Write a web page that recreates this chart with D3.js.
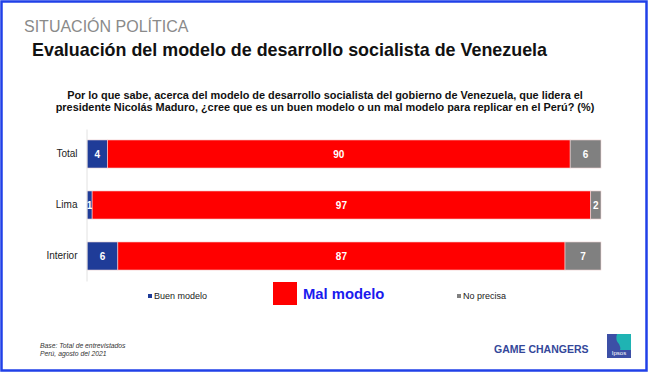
<!DOCTYPE html>
<html>
<head>
<meta charset="utf-8">
<script src="https://cdn.jsdelivr.net/npm/d3@7"></script>
<style>
  body { margin: 0; background: #fff; }
  svg { display: block; font-family: "Liberation Sans", Arial, sans-serif; }
</style>
</head>
<body>
<div id="chart"></div>
<script>
// data
const categories = ["Total", "Lima", "Interior"];
const buenModelo = [4, 1, 6];
const malModelo = [90, 97, 87];
const noPrecisa = [6, 2, 7];
const seriesNames = ["Buen modelo", "Mal modelo", "No precisa"];

const W = 650, H = 373;
const colors = { "Buen modelo": "#1f3c98", "Mal modelo": "#ff0000", "No precisa": "#808080" };

const svg = d3.select("#chart").append("svg")
  .attr("width", W)
  .attr("height", H);

// slide frame
svg.append("rect")
  .attr("x", 1.5).attr("y", 1.5)
  .attr("width", W - 5).attr("height", H - 4)
  .attr("fill", "#fff")
  .attr("stroke", "#2040e8")
  .attr("stroke-width", 2.5);

// headings
svg.append("text")
  .attr("x", 24).attr("y", 32)
  .style("font-size", "16px")
  .attr("fill", "#8a8a8a")
  .text("SITUACIÓN POLÍTICA");

svg.append("text")
  .attr("x", 32).attr("y", 56)
  .style("font-size", "17.9px")
  .style("font-weight", "bold")
  .attr("fill", "#111")
  .text("Evaluación del modelo de desarrollo socialista de Venezuela");

const question = [
  "Por lo que sabe, acerca del modelo de desarrollo socialista del gobierno de Venezuela, que lidera el",
  "presidente Nicolás Maduro, ¿cree que es un buen modelo o un mal modelo para replicar en el Perú? (%)"
];
svg.append("g").selectAll("text")
  .data(question)
  .join("text")
  .attr("x", 325)
  .attr("y", (d, i) => 98.5 + i * 12.5)
  .attr("text-anchor", "middle")
  .style("font-size", "10.9px")
  .style("font-weight", "bold")
  .attr("fill", "#111")
  .text(d => d);

// scales
const x = d3.scaleLinear().domain([0, 100]).range([87, 601]);
const y = d3.scaleBand()
  .domain(categories)
  .range([129, 281])
  .paddingInner(0.45)
  .paddingOuter(0.215);

const rows = categories.map((c, i) => ({
  cat: c,
  values: [buenModelo[i], malModelo[i], noPrecisa[i]]
}));

const stacked = rows.map(r => {
  let acc = 0;
  return r.values.map((v, j) => {
    const seg = { cat: r.cat, key: seriesNames[j], x0: acc, x1: acc + v, value: v };
    acc += v;
    return seg;
  });
}).flat();

svg.append("g")
  .selectAll("rect")
  .data(stacked)
  .join("rect")
  .attr("x", d => x(d.x0))
  .attr("y", d => y(d.cat))
  .attr("width", d => x(d.x1) - x(d.x0))
  .attr("height", y.bandwidth())
  .attr("fill", d => colors[d.key])
  .attr("stroke", "#f2d6d6")
  .attr("stroke-width", 0.6);

svg.append("g")
  .selectAll("text")
  .data(stacked)
  .join("text")
  .attr("x", d => (x(d.x0) + x(d.x1)) / 2)
  .attr("y", d => y(d.cat) + y.bandwidth() / 2 + 3.6)
  .attr("text-anchor", "middle")
  .style("font-size", "10px")
  .style("font-weight", "bold")
  .attr("fill", "#fff")
  .text(d => d.value);

// category axis
const axis = svg.append("g")
  .attr("transform", `translate(${x(0) - 0.5},0)`)
  .call(d3.axisLeft(y).tickSize(0).tickPadding(9));
axis.select(".domain").attr("stroke", "#e2e2e2");
axis.selectAll("text")
  .style("font-size", "10px")
  .style("font-family", "Liberation Sans, Arial, sans-serif")
  .attr("fill", "#222");

// legend
const legend = svg.append("g");
legend.append("rect").attr("x", 148).attr("y", 294).attr("width", 4).attr("height", 4)
  .attr("fill", colors["Buen modelo"]);
legend.append("text").attr("x", 154).attr("y", 299)
  .style("font-size", "9px").attr("fill", "#222").text(seriesNames[0]);

legend.append("rect").attr("x", 273).attr("y", 282).attr("width", 24).attr("height", 23)
  .attr("fill", colors["Mal modelo"]);
legend.append("text").attr("x", 303).attr("y", 298.5)
  .style("font-size", "14.8px").style("font-weight", "bold")
  .attr("fill", "#1a1aee").text(seriesNames[1]);

legend.append("rect").attr("x", 457).attr("y", 294).attr("width", 4).attr("height", 4)
  .attr("fill", colors["No precisa"]);
legend.append("text").attr("x", 463).attr("y", 299)
  .style("font-size", "9px").attr("fill", "#222").text(seriesNames[2]);

// footer
svg.append("text").attr("x", 40).attr("y", 348)
  .style("font-size", "6.8px").style("font-style", "italic").attr("fill", "#333")
  .text("Base: Total de entrevistados");
svg.append("text").attr("x", 40).attr("y", 356)
  .style("font-size", "6.8px").style("font-style", "italic").attr("fill", "#333")
  .text("Perú, agosto del 2021");

svg.append("text").attr("x", 494).attr("y", 353)
  .style("font-size", "10.5px").style("font-weight", "bold").attr("fill", "#34479a")
  .text("GAME CHANGERS");

// ipsos logo
const logo = svg.append("g").attr("transform", "translate(607,334)");
logo.append("rect").attr("width", 24).attr("height", 24).attr("fill", "#1fb3b3");
logo.append("path").attr("d", "M0,0 H10 Q8,6 12,10 Q14,14 13,16 H24 V24 H0 Z").attr("fill", "#3c4fa6");
logo.append("text").attr("x", 12).attr("y", 21).attr("text-anchor", "middle")
  .style("font-size", "6px").attr("fill", "#fff").text("Ipsos");
</script>
</body>
</html>
